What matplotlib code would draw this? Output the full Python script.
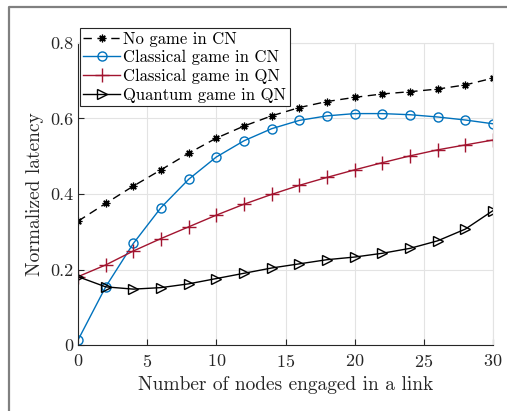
import matplotlib
matplotlib.use("Agg")
import matplotlib.pyplot as plt
from matplotlib.lines import Line2D
from matplotlib.ticker import FuncFormatter

plt.rcParams['font.family'] = 'serif'
plt.rcParams['font.serif'] = ['cmr10']
plt.rcParams['mathtext.fontset'] = 'cm'
plt.rcParams['axes.unicode_minus'] = False
plt.rcParams['axes.formatter.use_mathtext'] = True

nodes = [0, 2, 4, 6, 8, 10, 12, 14, 16, 18, 20, 22, 24, 26, 28, 30]
no_game_cn = [0.328, 0.375, 0.421, 0.464, 0.508, 0.548, 0.580, 0.607, 0.629,
              0.645, 0.656, 0.665, 0.671, 0.678, 0.689, 0.707]
classical_cn = [0.013, 0.154, 0.269, 0.364, 0.439, 0.498, 0.541, 0.573, 0.595,
                0.607, 0.613, 0.613, 0.610, 0.604, 0.596, 0.586]
classical_qn = [0.181, 0.212, 0.249, 0.282, 0.313, 0.344, 0.373, 0.399, 0.423,
                0.444, 0.464, 0.483, 0.501, 0.517, 0.530, 0.543]
quantum_qn = [0.181, 0.154, 0.148, 0.152, 0.162, 0.176, 0.190, 0.204, 0.215,
              0.226, 0.233, 0.243, 0.256, 0.276, 0.307, 0.356]

fig = plt.figure(figsize=(5.07, 4.11), dpi=100)
ax = fig.add_axes([78/507, 1-345/411, (493-78)/507, (345-43)/411])

ax.plot(nodes, no_game_cn, color='black', ls=(0, (6, 4)), lw=1.0, marker=(8, 2, 0),
        ms=5.5, mew=0.9, label='No game in CN')
ax.plot(nodes, classical_cn, color='#0072BD', lw=1.0, marker='o', ms=6.5,
        mfc='none', mew=1.0, label='Classical game in CN')
ax.plot(nodes, classical_qn, color='#A2142F', lw=1.0, marker='+', ms=10,
        mew=1.0, label='Classical game in QN')
ax.plot(nodes, quantum_qn, color='black', lw=1.0, marker='>', ms=6.5,
        mfc='none', mew=1.0, label='Quantum game in QN')

ax.set_xlim(0, 30)
ax.set_ylim(0, 0.8)
ax.set_xticks([0, 5, 10, 15, 20, 25, 30])
ax.set_yticks([0, 0.2, 0.4, 0.6, 0.8])
ax.yaxis.set_major_formatter(FuncFormatter(lambda v, p: '%g' % v))
ax.grid(True, color='#e3e3e3', lw=0.8)
ax.set_axisbelow(True)
for s in ['top', 'right']:
    ax.spines[s].set_color('#e3e3e3')
for s in ['left', 'bottom']:
    ax.spines[s].set_color('#262626')
    ax.spines[s].set_linewidth(0.8)
ax.tick_params(direction='in', length=4, width=0.8, labelsize=13,
               colors='#262626', top=False, right=False)
ax.tick_params(axis='x', pad=6)
ax.set_xlabel('Number of nodes engaged in a link', fontsize=14, color='#262626', labelpad=4)
ax.set_ylabel('Normalized latency', fontsize=14, color='#262626', labelpad=4)

leg = ax.legend(loc='upper left', bbox_to_anchor=(80/507, 1-28/411),
                bbox_transform=fig.transFigure, fontsize=12, frameon=True,
                fancybox=False, edgecolor='#262626', framealpha=1,
                borderpad=0.2, labelspacing=0.2, handlelength=2.2,
                handletextpad=0.2, borderaxespad=0)
leg.get_frame().set_linewidth(0.8)

fig.add_artist(Line2D([8.5/507, 8.5/507, 1.0], [0, 1-7.5/411, 1-7.5/411],
                      transform=fig.transFigure, color='#808080', lw=1.6))

fig.savefig('out.png', dpi=100)
